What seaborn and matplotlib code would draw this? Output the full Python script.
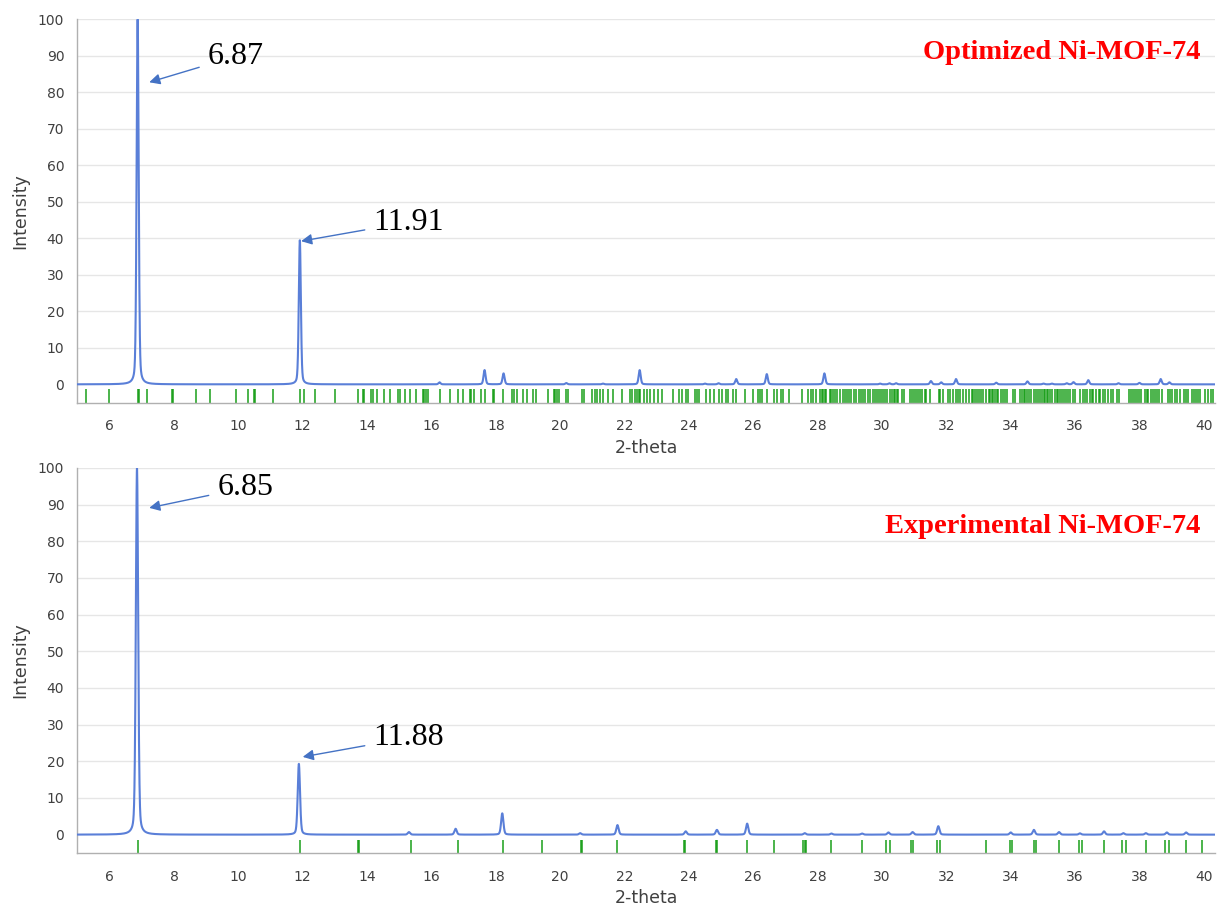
import numpy as np
import pandas as pd
import matplotlib
matplotlib.use("Agg")
import matplotlib.pyplot as plt
from matplotlib.ticker import MultipleLocator
import seaborn as sns

# ---- Optimized Ni-MOF-74: peak positions (2-theta) and relative intensities ----
opt_pos = [6.87, 11.91, 16.25, 17.65, 18.24, 20.19, 21.33, 22.47, 24.50, 24.92,
           25.47, 26.42, 28.21, 29.94, 30.23, 30.44, 31.52, 31.84, 32.30, 33.55,
           34.52, 35.02, 35.28, 35.74, 35.95, 36.41, 37.35, 38.00, 38.66, 38.93]
opt_int = [100.0, 39.5, 0.55, 3.9, 3.0, 0.35, 0.2, 3.9, 0.2, 0.3,
           1.45, 2.8, 3.0, 0.2, 0.3, 0.3, 0.9, 0.55, 1.45, 0.45,
           0.8, 0.2, 0.2, 0.3, 0.6, 1.15, 0.3, 0.4, 1.45, 0.55]

# Calculated reflection positions (tick marks) for the optimized structure
opt_refl = [5.28, 5.97, 6.87, 6.90, 7.15, 7.94, 7.97, 8.68, 9.11, 9.92, 10.31,
            10.49, 10.53, 11.07, 11.91, 12.05, 12.39, 13.01, 13.72, 13.86, 13.91,
            14.12, 14.17, 14.31, 14.53, 14.72, 14.96, 15.01, 15.17, 15.34, 15.52,
            15.74, 15.78, 15.82, 15.89, 16.25, 16.58, 16.82, 16.97, 17.19, 17.24,
            17.31, 17.54, 17.67, 17.90, 17.95, 18.22, 18.50, 18.55, 18.66, 18.86,
            18.97, 19.15, 19.26, 19.61, 19.80, 19.85, 19.90, 19.95, 20.19, 20.23,
            20.68, 20.75, 20.99, 21.07, 21.14, 21.24, 21.33, 21.50, 21.64, 21.92,
            22.16, 22.23, 22.33, 22.38, 22.44, 22.49, 22.59, 22.69, 22.80, 22.90,
            23.03, 23.16, 23.52, 23.68, 23.78, 23.92, 23.96, 24.19, 24.25, 24.30,
            24.54, 24.66, 24.77, 24.92, 25.02, 25.16, 25.23, 25.37, 25.47, 25.75,
            25.99, 26.16, 26.21, 26.27, 26.42, 26.65, 26.75, 26.86, 26.92, 27.10,
            27.51, 27.69, 27.79, 27.87, 27.96, 28.06, 28.14, 28.18, 28.22, 28.27,
            28.37, 28.41, 28.47, 28.55, 28.60, 28.70, 28.78, 28.86, 28.91, 28.99,
            29.04, 29.14, 29.20, 29.30, 29.35, 29.41, 29.48, 29.55, 29.63, 29.72,
            29.79, 29.86, 29.90, 29.96, 30.03, 30.09, 30.17, 30.25, 30.31, 30.36,
            30.41, 30.46, 30.51, 30.62, 30.67, 30.88, 30.94, 31.00, 31.06, 31.12,
            31.19, 31.25, 31.34, 31.37, 31.50, 31.76, 31.81, 31.89, 32.04, 32.10,
            32.22, 32.30, 32.35, 32.43, 32.51, 32.62, 32.69, 32.79, 32.84, 32.89,
            32.95, 33.00, 33.07, 33.15, 33.24, 33.31, 33.36, 33.41, 33.46, 33.52,
            33.57, 33.62, 33.69, 33.75, 33.83, 33.88, 34.06, 34.14, 34.29, 34.34,
            34.40, 34.45, 34.50, 34.58, 34.63, 34.71, 34.79, 34.86, 34.91, 34.97,
            35.02, 35.07, 35.12, 35.17, 35.22, 35.28, 35.38, 35.43, 35.48, 35.53,
            35.59, 35.64, 35.72, 35.79, 35.85, 35.93, 36.00, 36.16, 36.24, 36.31,
            36.38, 36.45, 36.52, 36.57, 36.65, 36.73, 36.78, 36.86, 36.93, 37.01,
            37.11, 37.17, 37.30, 37.35, 37.69, 37.73, 37.81, 37.86, 37.92, 38.00,
            38.04, 38.18, 38.23, 38.28, 38.35, 38.43, 38.49, 38.56, 38.62, 38.69,
            38.90, 38.95, 39.00, 39.11, 39.18, 39.26, 39.37, 39.45, 39.52, 39.62,
            39.68, 39.76, 39.81, 39.88, 40.04, 40.14, 40.22, 40.30]

# ---- Experimental Ni-MOF-74 ----
exp_pos = [6.85, 11.88, 15.30, 16.75, 18.20, 20.62, 21.78, 23.90, 24.87, 25.81,
           27.60, 28.43, 29.38, 30.20, 30.95, 31.75, 34.00, 34.72, 35.50, 36.15,
           36.90, 37.50, 38.20, 38.85, 39.45]
exp_int = [100.0, 19.3, 0.7, 1.6, 5.8, 0.4, 2.6, 0.9, 1.3, 3.0,
           0.4, 0.3, 0.3, 0.6, 0.7, 2.3, 0.6, 1.3, 0.7, 0.35,
           0.9, 0.4, 0.4, 0.6, 0.6]

exp_refl = [6.89, 11.93, 13.73, 13.76, 15.35, 16.82, 18.23, 19.42, 20.64, 20.67,
            21.78, 23.85, 23.88, 24.85, 24.88, 25.81, 26.65, 27.53, 27.62, 27.65,
            28.43, 29.38, 30.11, 30.24, 30.91, 30.97, 31.70, 31.79, 33.23, 33.98,
            34.04, 34.71, 34.77, 35.51, 36.11, 36.20, 36.89, 37.45, 37.57, 38.20,
            38.80, 38.91, 39.45, 39.94]

# Peak labels: (text, label x, label y, arrow tip x, arrow tip y)
opt_notes = [("6.87", 9.05, 89.8, 7.23, 82.7), ("11.91", 14.2, 44.4, 11.95, 39.2)]
exp_notes = [("6.85", 9.35, 94.6, 7.23, 89.1), ("11.88", 14.2, 26.4, 12.0, 21.2)]

titles = ["Optimized Ni-MOF-74", "Experimental Ni-MOF-74"]
title_y = [90.9, 83.9]

LINE = "#5a7fd8"
GREEN = "#0d9a0d"
GREY_TXT = "#404040"


def profile(x, pos, amp, fwhm, eta):
    """Pseudo-Voigt powder profile built from a list of reflections."""
    y = np.zeros_like(x)
    hw = fwhm / 2.0
    sig = fwhm / (2.0 * np.sqrt(2.0 * np.log(2.0)))
    for p, a in zip(pos, amp):
        d = x - p
        lor = 1.0 / (1.0 + (d / hw) ** 2)
        gau = np.exp(-0.5 * (d / sig) ** 2)
        y += a * (eta * lor + (1.0 - eta) * gau)
    return y


sns.set_theme(style="white")
plt.rcParams["font.family"] = ["DejaVu Sans"]

fig = plt.figure(figsize=(12.18, 9.08), dpi=100)
ax_top = fig.add_axes([0.0636, 0.5566, 0.934, 0.4224])
ax_bot = fig.add_axes([0.0636, 0.0606, 0.934, 0.4241])

x = np.linspace(5.0, 40.4, 9000)
panels = [
    (ax_top, opt_pos, opt_int, opt_refl, opt_notes, 0.075),
    (ax_bot, exp_pos, exp_int, exp_refl, exp_notes, 0.085),
]

for i, (ax, pos, amp, refl, notes, fw) in enumerate(panels):
    df = pd.DataFrame({"2-theta": x, "Intensity": profile(x, pos, amp, fw, 0.3)})
    ax.set_axisbelow(True)
    for gy in range(10, 101, 10):
        ax.axhline(gy, color="#e6e6e6", lw=1.0, zorder=0)
    sns.lineplot(data=df, x="2-theta", y="Intensity", ax=ax, color=LINE,
                 lw=1.5, zorder=3)
    ax.vlines(refl, -1.4, -5.0, colors=GREEN, lw=1.3, alpha=0.8, zorder=2)

    ax.set_xlim(5.0, 40.35)
    ax.set_ylim(-5, 100)
    ax.xaxis.set_major_locator(MultipleLocator(2))
    ax.xaxis.set_minor_locator(MultipleLocator(0.5))
    ax.set_yticks(np.arange(0, 101, 10))
    ax.yaxis.set_minor_locator(MultipleLocator(2))
    ax.tick_params(axis="both", which="major", direction="out", length=6,
                   width=1, color="#b0b0b0", labelsize=10, labelcolor=GREY_TXT)
    ax.tick_params(axis="both", which="minor", direction="out", length=3,
                   width=1, color="#b0b0b0")
    ax.tick_params(axis="x", pad=6)
    for s in ("top", "right"):
        ax.spines[s].set_visible(False)
    for s in ("left", "bottom"):
        ax.spines[s].set_color("#b0b0b0")
        ax.spines[s].set_linewidth(1.0)

    ax.set_xlabel("2-theta", fontsize=12.5, color=GREY_TXT, labelpad=4)
    ax.set_ylabel("Intensity", fontsize=12.5, color=GREY_TXT, labelpad=6)

    for txt, tx, ty, hx, hy in notes:
        ax.annotate(txt, xy=(hx, hy), xytext=(tx, ty), textcoords="data",
                    fontsize=23, family="Liberation Serif", color="black",
                    va="center", ha="left",
                    arrowprops=dict(arrowstyle="-|>", color="#4472c4", lw=1.0,
                                    mutation_scale=16, shrinkA=4, shrinkB=0))

    ax.text(39.9, title_y[i], titles[i], ha="right", va="center",
            fontsize=20.5, fontweight="bold", family="Liberation Serif",
            color="#ff0000")

fig.savefig("out.png", dpi=100)
